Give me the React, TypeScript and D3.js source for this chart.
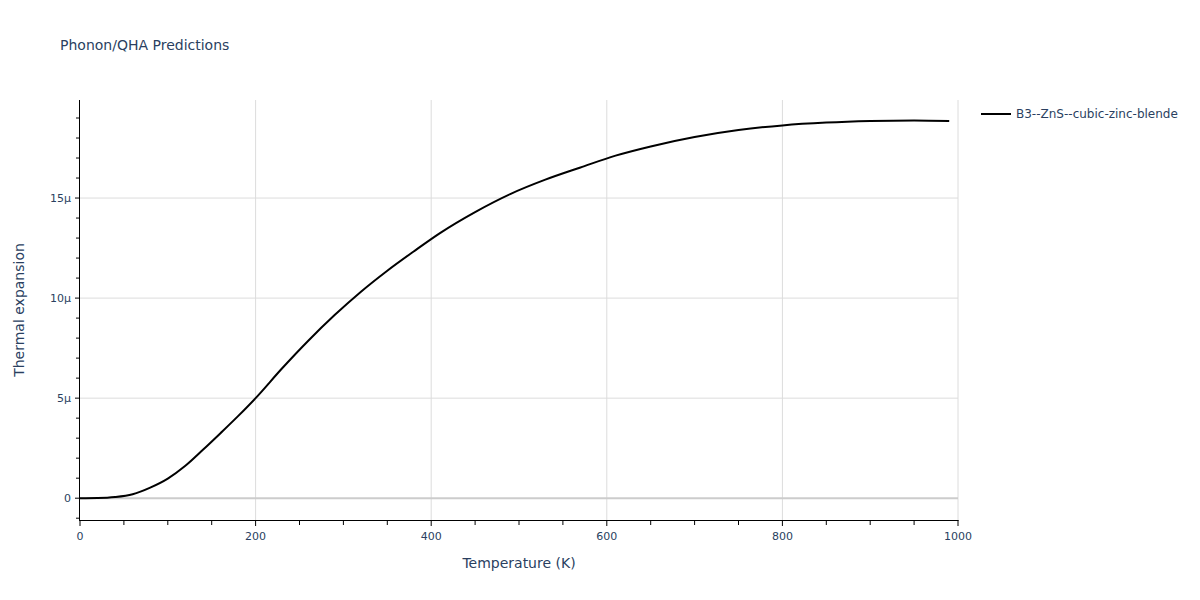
import React from "react";
import * as d3 from "d3";

const temperatures = [0, 20, 40, 60, 80, 100, 120, 140, 160, 180, 200, 230, 260, 290, 320, 350, 380, 410, 450, 490, 530, 570, 610, 650, 700, 750, 800, 850, 900, 950, 990];
const expansion = [0, 0.01, 0.06, 0.2, 0.53, 0.98, 1.62, 2.42, 3.25, 4.1, 5.0, 6.48, 7.87, 9.15, 10.32, 11.37, 12.33, 13.25, 14.3, 15.2, 15.92, 16.53, 17.12, 17.58, 18.05, 18.4, 18.63, 18.77, 18.85, 18.88, 18.85];
const xTicks = [0, 200, 400, 600, 800, 1000];
const yTicks = [0, 5, 10, 15];
const seriesName = "B3--ZnS--cubic-zinc-blende";
const titleText = "Phonon/QHA Predictions";
const xTitle = "Temperature (K)";
const yTitle = "Thermal expansion";

const W = 1200, H = 600;
const L = 80, R = 958, T = 100, B = 520;
const FONT = '"DejaVu Sans", Verdana, sans-serif';
const TXT = "#2a3f5f";

export default function App() {
  const x = d3.scaleLinear().domain([0, 1000]).range([L, R]);
  const y = d3.scaleLinear().domain([-1.09, 19.9]).range([B, T]);
  const line = d3.line<number>()
    .x((_, i) => x(temperatures[i]))
    .y((d) => y(d))
    .curve(d3.curveMonotoneX);
  const xMinor = d3.range(0, 1001, 50);
  const yMinor = d3.range(-1, 20, 1);
  return (
    <svg width={W} height={H} style={{ position: "absolute", left: 0, top: 0, background: "#fff" }} fontFamily={FONT}>
      <text x={60} y={50} fontSize={14} fill={TXT}>{titleText}</text>
      {xTicks.filter((t) => t > 0).map((t) => (
        <line key={"gx" + t} x1={x(t)} x2={x(t)} y1={T} y2={B} stroke="#dcdcdc" strokeWidth={1} />
      ))}
      {yTicks.filter((t) => t !== 0).map((t) => (
        <line key={"gy" + t} x1={L} x2={R} y1={y(t)} y2={y(t)} stroke="#dcdcdc" strokeWidth={1} />
      ))}
      <line x1={L} x2={R} y1={y(0)} y2={y(0)} stroke="#cccccc" strokeWidth={2} />
      <path d={line(expansion) || ""} fill="none" stroke="#000" strokeWidth={2} strokeLinejoin="round" />
      <line x1={L} x2={R + 0.5} y1={B + 0.5} y2={B + 0.5} stroke="#000" strokeWidth={1} />
      <line x1={L - 0.5} x2={L - 0.5} y1={T} y2={B + 1} stroke="#000" strokeWidth={1} />
      {xMinor.map((t) => (
        <line key={"tx" + t} x1={x(t)} x2={x(t)} y1={B} y2={B + (t % 200 === 0 ? 6 : 5)} stroke="#000" strokeWidth={1} />
      ))}
      {yMinor.map((t) => (
        <line key={"ty" + t} x1={L - (t % 5 === 0 ? 5 : 4)} x2={L} y1={y(t)} y2={y(t)} stroke="#000" strokeWidth={1} />
      ))}
      {xTicks.map((t) => (
        <text key={"lx" + t} x={x(t)} y={540} textAnchor="middle" fontSize={11} fill={TXT}>{t}</text>
      ))}
      {yTicks.map((t) => (
        <text key={"ly" + t} x={71} y={y(t) + 4} textAnchor="end" fontSize={11} fill={TXT}>{t === 0 ? "0" : t + "μ"}</text>
      ))}
      <text x={(L + R) / 2} y={568} textAnchor="middle" fontSize={14} fill={TXT}>{xTitle}</text>
      <text transform={`translate(24, ${(T + B) / 2}) rotate(-90)`} textAnchor="middle" fontSize={14} fill={TXT}>{yTitle}</text>
      <line x1={981} x2={1011} y1={114} y2={114} stroke="#000" strokeWidth={2} />
      <text x={1016} y={118} fontSize={12} fill={TXT}>{seriesName}</text>
    </svg>
  );
}
